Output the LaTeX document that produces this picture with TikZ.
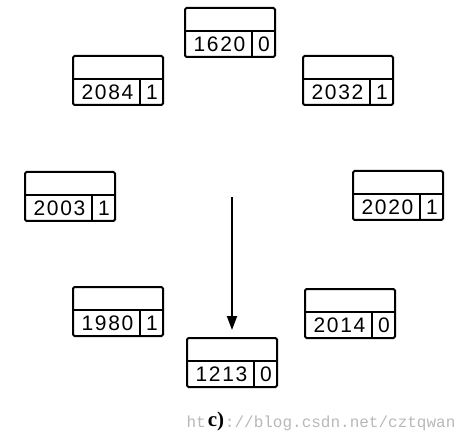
\documentclass[tikz,border=0pt]{standalone}
\usepackage{fontspec}
\setmainfont{Liberation Sans}
\newfontfamily\wmfont{Liberation Mono}
\newfontfamily\capfont{Liberation Serif}
\usetikzlibrary{calc,arrows.meta}
\tikzset{
  regcell/.style={draw, line width=2pt, rounded corners=1.5pt, minimum width=90pt, minimum height=49pt, inner sep=0pt, outer sep=0pt},
  cellline/.style={line width=1.8pt},
  numtext/.style={font=\fontsize{21}{21}\selectfont\addfontfeature{LetterSpace=8}, anchor=center, inner sep=0pt},
  mainarrow/.style={line width=2pt, -{Triangle[width=10pt,length=14pt]}, shorten >=8pt},
}
\newcommand\regbox[5]{%
  \node[regcell] (#1) at (#2+45,#3+24.5) {};
  \draw[cellline] ($(#1.north west)+(0,23)$) -- ($(#1.north east)+(0,23)$);
  \draw[cellline] ($(#1.north west)+(67,23)$) -- ($(#1.south west)+(67,0)$);
  \node[numtext] (#1n) at ($(#1.south west)+(34.5,-12.5)$) {#4};
  \node[numtext] (#1b) at ($(#1.south west)+(79,-12.5)$) {#5};
}
\begin{document}
\begin{tikzpicture}[x=1pt,y=-1pt]
  \useasboundingbox (0,0) rectangle (473,443);
  \regbox{b1620}{185}{8}{1620}{0}
  \regbox{b2084}{73}{56}{2084}{1}
  \regbox{b2032}{303}{56}{2032}{1}
  \regbox{b2003}{25}{172}{2003}{1}
  \regbox{b2020}{353}{171}{2020}{1}
  \regbox{b1980}{73}{287}{1980}{1}
  \regbox{b2014}{305}{289}{2014}{0}
  \regbox{b1213}{187}{338}{1213}{0}
  \coordinate (astart) at (232,197);
  \draw[mainarrow] (astart) -- (b1213.north);
  \node[font=\wmfont\fontsize{16}{16}\selectfont, text=black!28, inner sep=0pt] (wm) at (321,423) {http://blog.csdn.net/cztqwan};
  \node[font=\capfont\bfseries\fontsize{21}{21}\selectfont, fill=white, inner sep=0.5pt] (cap) at (216,421) {c)};
\end{tikzpicture}
\end{document}
